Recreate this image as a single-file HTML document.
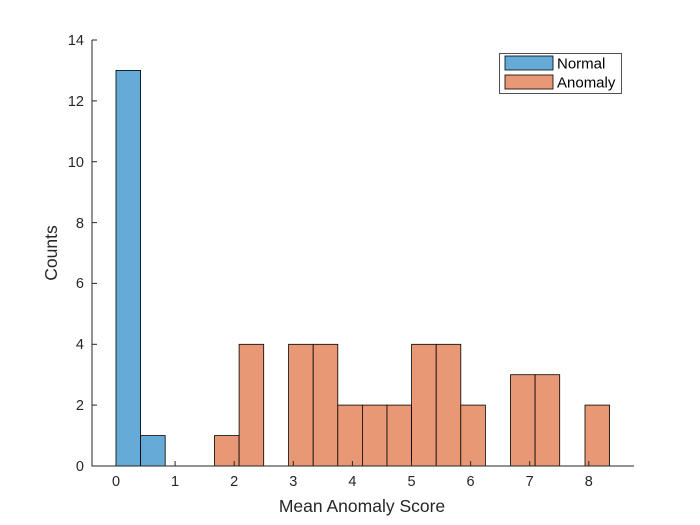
<!DOCTYPE html>
<html><head><meta charset="utf-8"><style>body{margin:0;background:#fff}svg{display:block}</style></head>
<body>
<svg width="700" height="525" xmlns="http://www.w3.org/2000/svg" font-family="Liberation Sans, sans-serif" fill="#262626">
<rect width="700" height="525" fill="#fff"/>
<g stroke="#000" stroke-width="0.8">
<rect x="116" y="70.4" width="24.6" height="395.6" fill="#66AAD7"/>
<rect x="140.6" y="435.6" width="24.6" height="30.4" fill="#66AAD7"/>
<g fill="#E89875">
<rect x="214.5" y="435.6" width="24.6" height="30.4"/>
<rect x="239.1" y="344.3" width="24.6" height="121.7"/>
<rect x="288.6" y="344.3" width="24.6" height="121.7"/>
<rect x="313.2" y="344.3" width="24.6" height="121.7"/>
<rect x="337.8" y="405.1" width="24.6" height="60.9"/>
<rect x="362.4" y="405.1" width="24.6" height="60.9"/>
<rect x="387" y="405.1" width="24.6" height="60.9"/>
<rect x="411.6" y="344.3" width="24.6" height="121.7"/>
<rect x="436.2" y="344.3" width="24.6" height="121.7"/>
<rect x="460.8" y="405.1" width="24.6" height="60.9"/>
<rect x="510.5" y="374.7" width="24.6" height="91.3"/>
<rect x="535.1" y="374.7" width="24.6" height="91.3"/>
<rect x="585" y="405.1" width="24.6" height="60.9"/>
</g>
</g>
<g stroke="#262626" stroke-width="1">
<line x1="92" y1="40" x2="92" y2="466.5"/>
<line x1="91.5" y1="466" x2="634" y2="466"/>
<line x1="92" y1="466" x2="97" y2="466"/><line x1="92" y1="405.1" x2="97" y2="405.1"/><line x1="92" y1="344.3" x2="97" y2="344.3"/><line x1="92" y1="283.4" x2="97" y2="283.4"/><line x1="92" y1="222.6" x2="97" y2="222.6"/><line x1="92" y1="161.7" x2="97" y2="161.7"/><line x1="92" y1="100.9" x2="97" y2="100.9"/><line x1="92" y1="40" x2="97" y2="40"/>
<line x1="116" y1="466" x2="116" y2="461"/><line x1="175.1" y1="466" x2="175.1" y2="461"/><line x1="234.2" y1="466" x2="234.2" y2="461"/><line x1="293.3" y1="466" x2="293.3" y2="461"/><line x1="352.4" y1="466" x2="352.4" y2="461"/><line x1="411.5" y1="466" x2="411.5" y2="461"/><line x1="470.6" y1="466" x2="470.6" y2="461"/><line x1="529.7" y1="466" x2="529.7" y2="461"/><line x1="588.8" y1="466" x2="588.8" y2="461"/>
</g>
<g font-size="14.5" text-anchor="end">
<text x="84" y="471">0</text><text x="84" y="410">2</text><text x="84" y="349">4</text><text x="84" y="288">6</text><text x="84" y="228">8</text><text x="84" y="167">10</text><text x="84" y="106">12</text><text x="84" y="45">14</text>
</g>
<g font-size="14.5" text-anchor="middle">
<text x="116" y="486">0</text><text x="175.1" y="486">1</text><text x="234.2" y="486">2</text><text x="293.3" y="486">3</text><text x="352.4" y="486">4</text><text x="411.5" y="486">5</text><text x="470.6" y="486">6</text><text x="529.7" y="486">7</text><text x="588.8" y="486">8</text>
<text x="362" y="512" font-size="17.5">Mean Anomaly Score</text>
<text transform="translate(57,253) rotate(-90)" font-size="17.5">Counts</text>
</g>
<rect x="499.5" y="53.5" width="122" height="40" fill="#fff" stroke="#262626" stroke-width="0.8"/>
<rect x="505" y="56" width="48" height="14" fill="#66AAD7" stroke="#000" stroke-width="0.8"/>
<rect x="505" y="75" width="48" height="14" fill="#E89875" stroke="#000" stroke-width="0.8"/>
<g font-size="15" fill="#000"><text x="557" y="68.5">Normal</text><text x="557" y="87.5">Anomaly</text></g>
</svg>
</body></html>
